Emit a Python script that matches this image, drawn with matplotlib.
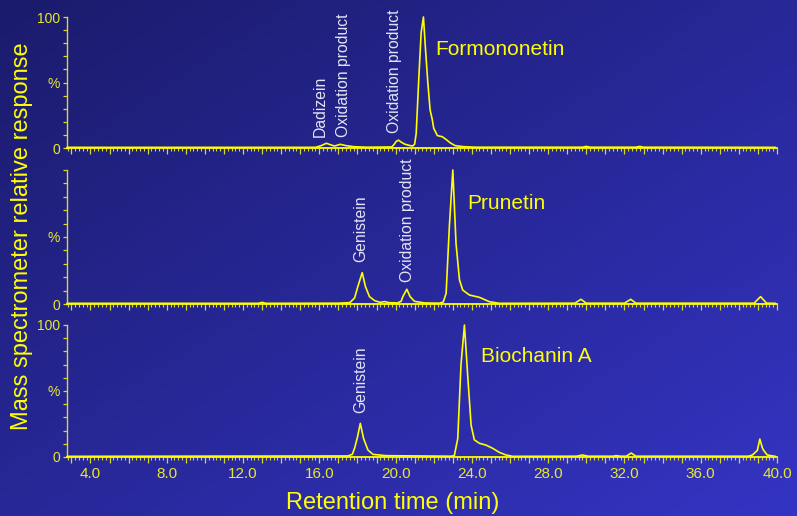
import numpy as np
import matplotlib
matplotlib.use("Agg")
import matplotlib.pyplot as plt
from matplotlib.ticker import MultipleLocator, FixedLocator, FuncFormatter

# ---------------- data ----------------
t_formononetin = [2.8, 8.0, 13.0, 15.8, 16.1, 16.37, 16.6, 16.8, 17.1, 17.4, 17.8, 18.5, 19.8,
                  19.94, 20.03, 20.15, 20.29, 20.47, 20.7, 20.9, 21.0, 21.08, 21.22, 21.34, 21.46,
                  21.57, 21.69, 21.81, 21.92, 22.0, 22.19, 22.45, 22.65, 22.86, 23.12, 23.56, 24.2,
                  29.8, 30.0, 30.2, 32.6, 32.8, 33.0, 39.9]
y_formononetin = [0.5, 0.5, 0.5, 0.5, 1.8, 3.6, 2.4, 1.5, 2.8, 1.8, 1.0, 0.6, 0.8,
                  3.0, 5.0, 6.0, 4.5, 3.0, 2.0, 1.5, 3.0, 11, 54, 88, 100,
                  75, 50, 29, 22, 15, 9.5, 8.6, 6.5, 4.0, 1.8, 1.0, 0.6,
                  0.6, 1.2, 0.6, 0.6, 1.2, 0.6, 0.5]

t_prunetin = [2.8, 12.8, 13.0, 13.2, 17.0, 17.6, 17.85, 18.02, 18.25, 18.42, 18.63, 18.9, 19.2,
              19.42, 19.65, 20.1, 20.29, 20.38, 20.59, 20.76, 20.99, 21.5, 22.3, 22.5, 22.65,
              22.82, 23.0, 23.17, 23.35, 23.52, 23.87, 24.39, 24.92, 25.44, 29.4, 29.72, 30.0,
              32.0, 32.33, 32.6, 38.8, 39.14, 39.45, 39.9]
y_prunetin = [0.5, 0.5, 1.2, 0.5, 0.6, 1.0, 4.5, 13, 23.4, 13, 5.5, 2.5, 1.2,
              1.8, 1.0, 0.8, 2, 5.5, 11, 5.5, 2, 0.8, 0.6, 1.5, 8,
              58, 100, 45, 18, 10.4, 6.7, 5, 1.7, 0.5, 0.6, 3.5, 0.6,
              0.6, 3.5, 0.6, 0.6, 5.5, 0.6, 0.5]

t_biochanin = [2.8, 17.5, 17.73, 17.85, 18.0, 18.15, 18.32, 18.55, 18.81, 19.5, 22.9, 23.08,
               23.26, 23.43, 23.61, 23.78, 23.96, 24.13, 24.39, 24.74, 25.09, 25.44, 25.79, 26.14,
               29.5, 29.79, 30.1, 31.4, 31.56, 31.8, 32.1, 32.35, 32.6, 38.5, 38.71, 38.97, 39.1,
               39.23, 39.3, 39.49, 39.9]
y_biochanin = [0.5, 0.8, 2, 6.6, 15, 25.5, 14, 5.3, 2, 1, 0.6, 1,
               14, 70, 100, 62, 24, 13, 10.4, 9, 6.6, 3.5, 1.5, 0.5,
               0.6, 1.5, 0.6, 0.6, 1.0, 0.6, 0.6, 3, 0.6, 0.6, 1.5, 5, 13.6,
               7, 5, 1.5, 0.5]

compounds = ["Formononetin", "Prunetin", "Biochanin A"]
compound_label_pos = [(22.09, 75), (23.76, 75), (24.5, 76)]

peak_labels = [
    [("Dadizein", 16.05, 8.6), ("Oxidation product", 17.29, 8.6), ("Oxidation product", 19.94, 11.2)],
    [("Genistein", 18.15, 31.6), ("Oxidation product", 20.64, 16.6)],
    [("Genistein", 18.15, 33.0)],
]
ytick_labels = [["0", "%", "100"], ["0", "%", ""], ["0", "%", "100"]]
xtick_label_values = [4, 8, 12, 16, 20, 24, 28, 32, 36, 40]

traces = [(t_formononetin, y_formononetin), (t_prunetin, y_prunetin), (t_biochanin, y_biochanin)]

# ---------------- style ----------------
FONT = "Liberation Sans"
plt.rcParams["font.family"] = [FONT, "DejaVu Sans"]
YELLOW = "#ffff00"
TICKYEL = "#e8e82a"
LABELCOL = "#e4e4f4"

W, H = 797, 516
fig = plt.figure(figsize=(W / 100, H / 100), dpi=100)

# background diagonal gradient
bg = fig.add_axes([0, 0, 1, 1], zorder=-10)
gx = np.linspace(0, 1, 200)[None, :]
gy = np.linspace(0, 1, 130)[:, None]
f = (gx + gy) / 2.0
c0 = np.array([27, 27, 108]) / 255.0
c1 = np.array([52, 52, 196]) / 255.0
img = c0[None, None, :] * (1 - f[..., None]) + c1[None, None, :] * f[..., None]
bg.imshow(img, aspect="auto", extent=[0, 1, 0, 1], origin="upper")
bg.axis("off")

left = 67 / W
right = 777 / W
panels_px = [(17, 148), (170, 304), (325, 457)]

axes = []
for i, (top_px, bot_px) in enumerate(panels_px):
    ax = fig.add_axes([left, 1 - bot_px / H, right - left, (bot_px - top_px) / H])
    ax.set_facecolor("none")
    t, y = traces[i]
    ax.plot(t, y, color=YELLOW, lw=1.2, clip_on=False, zorder=3)
    ax.set_xlim(2.77, 40.0)
    ax.set_ylim(0, 100)
    for s in ["top", "right"]:
        ax.spines[s].set_visible(False)
    ax.spines["left"].set_color("#d8d830")
    ax.spines["left"].set_linewidth(1.0)
    ax.spines["bottom"].set_color(YELLOW)
    ax.spines["bottom"].set_linewidth(1.3)

    ax.yaxis.set_major_locator(FixedLocator([0, 50, 100]))
    ax.yaxis.set_minor_locator(MultipleLocator(10))
    ax.set_yticklabels(ytick_labels[i])
    ax.tick_params(axis="y", which="both", direction="out", length=3, width=0.9,
                   color="#d8d830", labelcolor=TICKYEL, labelsize=10, pad=2)

    ax.xaxis.set_major_locator(MultipleLocator(1))
    ax.xaxis.set_minor_locator(MultipleLocator(0.2))
    if i == 2:
        ax.xaxis.set_major_formatter(FuncFormatter(
            lambda v, p: f"{v:.1f}" if round(v) in xtick_label_values and abs(v - round(v)) < 1e-6 else ""))
    else:
        ax.xaxis.set_major_formatter(FuncFormatter(lambda v, p: ""))
    ax.tick_params(axis="x", which="major", direction="out", length=4, width=0.9,
                   color="#d8d830", labelcolor=TICKYEL, labelsize=11, pad=3)
    ax.tick_params(axis="x", which="minor", direction="out", length=2, width=0.8,
                   color="#d8d830")

    name = compounds[i]
    lx, ly = compound_label_pos[i]
    ax.text(lx, ly, name, color=YELLOW, fontsize=15, ha="left", va="center")
    for txt, px, py in peak_labels[i]:
        ax.text(px, py, txt, color=LABELCOL, fontsize=11.3, rotation=90,
                ha="center", va="bottom")
    axes.append(ax)

fig.text(393 / W, 1 - 503 / H, "Retention time (min)", color=YELLOW, fontsize=17,
         ha="center", va="center")
fig.text(22 / W, 1 - 236 / H, "Mass spectrometer relative response", color=YELLOW,
         fontsize=17, ha="center", va="center", rotation=90)

fig.savefig("out.png", dpi=100)
